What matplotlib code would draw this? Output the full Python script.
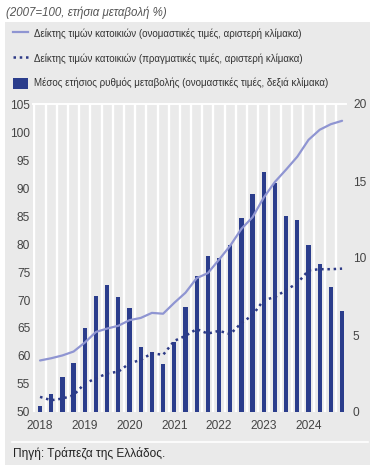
import matplotlib
matplotlib.use("Agg")
import matplotlib.pyplot as plt
from matplotlib.lines import Line2D
from matplotlib.patches import Patch, Rectangle

plt.rcParams['font.family'] = ['Liberation Sans', 'DejaVu Sans']

# quarterly observations 2018Q1 .. 2024Q4
quarters = [f"{y}Q{q}" for y in range(2018, 2025) for q in range(1, 5)]
year_labels = ['2018', '2019', '2020', '2021', '2022', '2023', '2024']

# average annual rate of change (nominal, right scale, %)
growth = [0.4, 1.2, 2.25, 3.2, 5.45, 7.55, 8.25, 7.45, 6.75, 4.25, 3.9, 3.1,
          4.55, 6.85, 8.8, 10.1, 10.0, 10.85, 12.6, 14.15, 15.6, 14.85, 12.75, 12.5,
          10.85, 9.6, 8.1, 6.55]

# house price index, nominal (left scale, 2007=100)
nominal = [59.2, 59.6, 60.1, 60.8, 62.4, 64.3, 64.9, 65.4, 66.4, 66.8, 67.7, 67.55,
           69.5, 71.3, 73.9, 74.8, 77.2, 79.7, 82.7, 84.8, 88.3, 91.1, 93.3, 95.6,
           98.6, 100.4, 101.4, 102.0]

# house price index, real (left scale, 2007=100)
real = [52.7, 52.1, 52.4, 53.0, 55.1, 56.0, 56.9, 57.2, 58.7, 59.3, 60.5, 60.2,
        62.7, 63.6, 64.8, 64.0, 64.5, 63.9, 65.9, 67.3, 70.0, 70.5, 71.8, 73.0,
        75.3, 75.5, 75.5, 75.6]

bar_color = '#2b3d8c'
nom_color = '#8f95d2'
real_color = '#2d3a86'
bg = '#eaeaea'
txt = '#333333'

fig = plt.figure(figsize=(3.81, 4.70), dpi=100)
fig.patch.set_facecolor('white')

# grey panel behind everything
fig.patches.append(Rectangle((5 / 381, 1 - 465 / 470), 365 / 381, (465 - 22) / 470,
                             transform=fig.transFigure, facecolor=bg,
                             edgecolor='none', zorder=-5))
# white separator above the source note
fig.add_artist(Line2D([12 / 381, 368 / 381], [1 - 442 / 470] * 2,
                      transform=fig.transFigure, color='white', lw=1.2))

x = list(range(len(quarters)))

ax = fig.add_axes([33 / 381, 1 - 412 / 470, 313 / 381, 308 / 470])
ax.set_facecolor(bg)
# white separators between quarters
for i in x:
    ax.axvline(i - 0.5, color='white', lw=1.7, zorder=1)
ax.bar(x, growth, width=0.38, color=bar_color, zorder=2)
ax.set_ylim(0, 20)
ax.set_xlim(-0.63, 27.35)
ax.set_xticks(x[::4])
ax.set_xticklabels(year_labels)
for s in ['left', 'right', 'bottom']:
    ax.spines[s].set_visible(False)
ax.spines['top'].set_color('white')
ax.spines['top'].set_linewidth(1.4)

ax2 = ax.twinx()
ax2.plot(x, nominal, color=nom_color, lw=1.6, solid_capstyle='round')
ax2.plot(x, real, color=real_color, lw=1.8, linestyle=(0, (1, 1.5)))
ax2.set_ylim(50, 105)
ax2.set_yticks(range(50, 106, 5))
for s in ax2.spines.values():
    s.set_visible(False)
ax2.patch.set_visible(False)

# swap sides: percent scale on the right, index on the left
ax.yaxis.tick_right()
ax.set_yticks([0, 5, 10, 15, 20])
ax2.yaxis.tick_left()
ax.tick_params(which='both', length=0, labelsize=8.6, colors='#444444')
ax.tick_params(axis='x', pad=6)
ax.tick_params(axis='y', pad=5)
ax2.tick_params(length=0, labelsize=8.6, colors='#444444', pad=2)

fig.text(6 / 381, 1 - 13 / 470, '(2007=100, ετήσια μεταβολή %)', style='italic',
         fontsize=8.3, color='#555555', va='center')

handles = [
    Line2D([], [], color=nom_color, lw=1.6),
    Line2D([], [], color=real_color, lw=1.8, linestyle=(0, (1, 1.5))),
    Patch(facecolor=bar_color, edgecolor='none'),
]
labels = [
    'Δείκτης τιμών κατοικιών (ονομαστικές τιμές, αριστερή κλίμακα)',
    'Δείκτης τιμών κατοικιών (πραγματικές τιμές, αριστερή κλίμακα)',
    'Μέσος ετήσιος ρυθμός μεταβολής (ονομαστικές τιμές, δεξιά κλίμακα)',
]
fig.legend(handles, labels, loc='upper left', bbox_to_anchor=(9 / 381, 1 - 24 / 470),
           frameon=False, fontsize=7.0, handlelength=1.6, handleheight=1.4,
           handletextpad=0.6, labelspacing=1.4, borderaxespad=0, labelcolor=txt)

fig.text(13 / 381, 1 - 453 / 470, 'Πηγή: Τράπεζα της Ελλάδος.', fontsize=8.6,
         color='#222222', va='center')

fig.savefig('out.png', dpi=100)
